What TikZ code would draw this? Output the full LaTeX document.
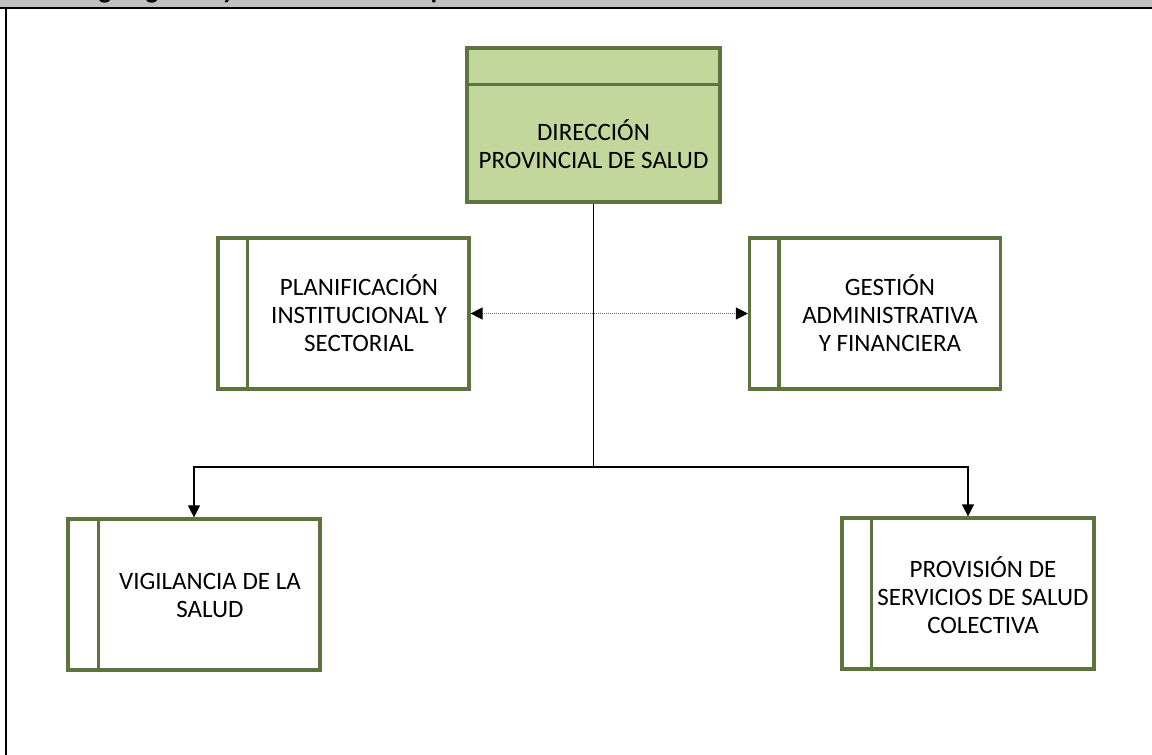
\documentclass[tikz,border=0pt]{standalone}
\usepackage{fontspec}
\setmainfont{Carlito}
\usetikzlibrary{arrows.meta,calc}
\definecolor{boxline}{RGB}{94,116,62}
\definecolor{headfill}{RGB}{195,214,155}
\definecolor{barfill}{RGB}{192,192,192}
\begin{document}
\begin{tikzpicture}[x=1pt,y=-1pt,
  unitbox/.style={draw=boxline, line width=3.2pt, inner sep=0pt, minimum width=251pt, minimum height=151pt},
  boxtext/.style={align=center, font=\fontsize{25}{28}\selectfont, inner sep=0pt},
  connector/.style={line width=1.2pt, black},
  arrowtip/.style={-{Triangle[length=12pt,width=12pt]}},
  sidebar/.style={draw=boxline, line width=3.2pt}
]
\useasboundingbox (0,0) rectangle (1152,755);

% header strip and page frame
\begin{scope}
  \clip (0,0) rectangle (1152,755);
  \fill[barfill] (0,-5) rectangle (1152,7);
  \node[anchor=base west, font=\bfseries\fontsize{27}{30}\selectfont, inner sep=0pt] (title) at (71,-2) {Organigrama y Estructura Descriptiva};
  \draw[line width=2pt] (0,7.5) -- (1152,7.5);
  \draw[line width=2pt] (6,7) -- (6,760);
\end{scope}

% top unit
\node[unitbox, fill=headfill, minimum width=253pt, minimum height=154pt] (dir) at (593.5,125) {};
\draw[sidebar] ($(dir.north west)+(0,38)$) -- ($(dir.north east)+(0,38)$);
\node[boxtext] (dirtext) at (593.5,144) {DIRECCIÓN\\PROVINCIAL DE SALUD};

% advisory and support units
\node[unitbox] (plan) at (343.5,313.5) {};
\draw[sidebar] ($(plan.north west)+(31,0)$) -- ($(plan.south west)+(31,0)$);
\node[boxtext] (plantext) at (359,313) {PLANIFICACIÓN\\INSTITUCIONAL Y\\SECTORIAL};

\node[unitbox] (gest) at (875,313.5) {};
\draw[sidebar] ($(gest.north west)+(31,0)$) -- ($(gest.south west)+(31,0)$);
\node[boxtext] (gesttext) at (890,313) {GESTIÓN\\ADMINISTRATIVA\\Y FINANCIERA};

% operational units
\node[unitbox, minimum width=252pt] (vig) at (194,594.5) {};
\draw[sidebar] ($(vig.north west)+(32,0)$) -- ($(vig.south west)+(32,0)$);
\node[boxtext] (vigtext) at (210,595) {VIGILANCIA DE LA\\SALUD};

\node[unitbox, minimum width=252pt] (prov) at (968,593.5) {};
\draw[sidebar] ($(prov.north west)+(31,0)$) -- ($(prov.south west)+(31,0)$);
\node[boxtext] (provtext) at (983,595) {PROVISIÓN DE\\SERVICIOS DE SALUD\\COLECTIVA};

% connectors
\coordinate (hub) at (593.5,467);
\draw[connector] (dir.south) -- (hub);
\draw[connector, arrowtip] (hub) -| (vig.north);
\draw[connector, arrowtip] (hub) -| (prov.north);
\draw[densely dotted, line width=1pt, black!55,
      {Triangle[length=12pt,width=12pt,color=black]}-{Triangle[length=12pt,width=12pt,color=black]}]
  (plan.east) -- (gest.west);
\end{tikzpicture}
\end{document}
